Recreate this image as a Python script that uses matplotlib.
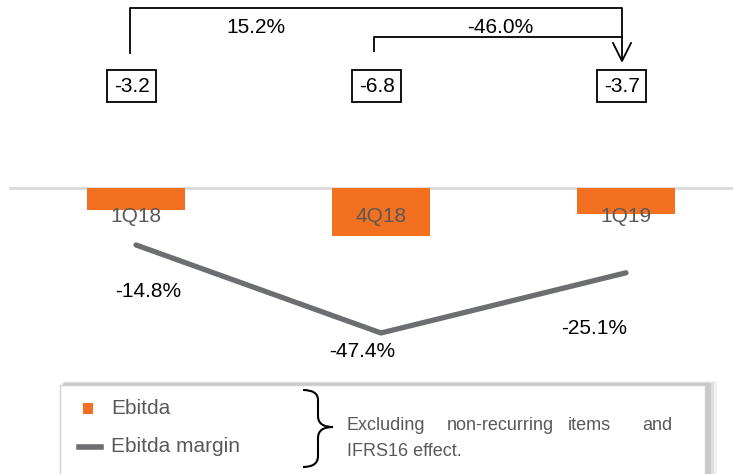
import matplotlib
matplotlib.use("Agg")
import matplotlib.pyplot as plt
import matplotlib.transforms as mtransforms
from matplotlib.patches import Rectangle
from matplotlib.path import Path
from matplotlib.patches import PathPatch

plt.rcParams['font.family'] = ['Liberation Sans', 'DejaVu Sans']

# Dados
quarters = ["1Q18", "4Q18", "1Q19"]
ebitda = [-3.2, -6.8, -3.7]
margin = [-14.8, -47.4, -25.1]
growth_labels = ["15.2%", "-46.0%"]
legend_labels = ["Ebitda", "Ebitda margin"]
note_words = ["Excluding", "non-recurring", "items", "and"]
note_line2 = "IFRS16 effect."

ORANGE = "#f37021"
GRAY = "#6d6e71"
TXT = "#595959"
FS = 15

W, H = 733, 474
fig = plt.figure(figsize=(W / 100, H / 100), dpi=100)

# eixo principal (barras): 245 px por categoria, 7 px por unidade
ax = fig.add_axes([0, 0, 1, 1])
x = list(range(len(quarters)))
ax.set_xlim(-136 / 245, (W - 136) / 245)
ax.set_ylim((188 - H) / 7, 188 / 7)
ax.axis('off')
ax.axhline(0, xmin=10 / W, xmax=1, color="#d9d9d9", lw=2, zorder=1)
ax.bar(x, ebitda, width=0.404, color=ORANGE, zorder=2)

# eixo secundário (margem): 2.7 px por ponto percentual
ax2 = ax.twinx()
ax2.set_ylim((205 - H) / 2.7, 205 / 2.7)
ax2.axis('off')
ax2.plot(x, margin, color=GRAY, lw=3.8, solid_capstyle='round', zorder=3)
offsets = [(12, -47), (-19, -19), (-32, -56)]
for xi, m, off in zip(x, margin, offsets):
    ax2.annotate(f"{m:.1f}%", (xi, m), xytext=off, textcoords='offset pixels',
                 ha='center', va='center', fontsize=FS, color='black')

# overlay em pixels
ov = fig.add_axes([0, 0, 1, 1], zorder=5)
ov.set_xlim(0, W)
ov.set_ylim(H, 0)
ov.axis('off')
ov.patch.set_alpha(0)

bt = mtransforms.blended_transform_factory(ax.transData, ov.transData)
for xi, q in zip(x, quarters):
    ov.text(xi, 216, q, transform=bt, ha='center', va='center',
            fontsize=FS, color=TXT, zorder=6)

for xi, v in zip(x, ebitda):
    ov.text(xi - 0.017, 86, f"{v:.1f}", transform=bt, ha='center', va='center',
            fontsize=FS, color='black',
            bbox=dict(boxstyle='square,pad=0.32', fc='white', ec='black', lw=1.3))

# setas de variação
ov.plot([130, 130, 622, 622], [53, 8, 8, 60], color='black', lw=1.3)
ov.plot([374, 374, 622], [51, 37, 37], color='black', lw=1.3)
ov.plot([613, 622, 631], [43, 61, 43], color='black', lw=1.3)
ov.text(256, 27, growth_labels[0], ha='center', va='center', fontsize=FS)
ov.text(500, 27, growth_labels[1], ha='center', va='center', fontsize=FS)

# caixa da legenda com sombra
for i, a in enumerate([0.05, 0.07, 0.1]):
    d = 4 - i
    ov.add_patch(Rectangle((60 + d, 385 - d), 645 + d * 2, 100, fc='#000000',
                           alpha=a, ec='none', zorder=1))
ov.add_patch(Rectangle((60, 385), 645, 100, fc='white', ec='#d0d0d0', lw=1, zorder=2))

ov.add_patch(Rectangle((83, 403), 10, 11, fc=ORANGE, ec='none', zorder=3))
ov.plot([79, 101], [447, 447], color=GRAY, lw=4, zorder=3)
ov.text(111, 408, legend_labels[0], ha='left', va='center', fontsize=FS, color=TXT, zorder=3)
ov.text(111, 446, legend_labels[1], ha='left', va='center', fontsize=FS, color=TXT, zorder=3)

# chaveta
verts = [(303, 390), (318, 390), (318, 400), (318, 416), (318, 427), (333, 427),
         (318, 427), (318, 438), (318, 456), (318, 467), (303, 467)]
codes = [Path.MOVETO, Path.CURVE3, Path.CURVE3, Path.LINETO, Path.CURVE3, Path.CURVE3,
         Path.CURVE3, Path.CURVE3, Path.LINETO, Path.CURVE3, Path.CURVE3]
ov.add_patch(PathPatch(Path(verts, codes), fc='none', ec='black', lw=1.5, zorder=3))

word_x = [347, 447, 568, 672]
for wx, wd in zip(word_x, note_words):
    ov.text(wx, 426, wd, ha='right' if wd == "and" else 'left', va='center',
            fontsize=13, color=TXT, zorder=3)
ov.text(347, 451, note_line2, ha='left', va='center', fontsize=13, color=TXT, zorder=3)

fig.savefig("out.png", dpi=100)
